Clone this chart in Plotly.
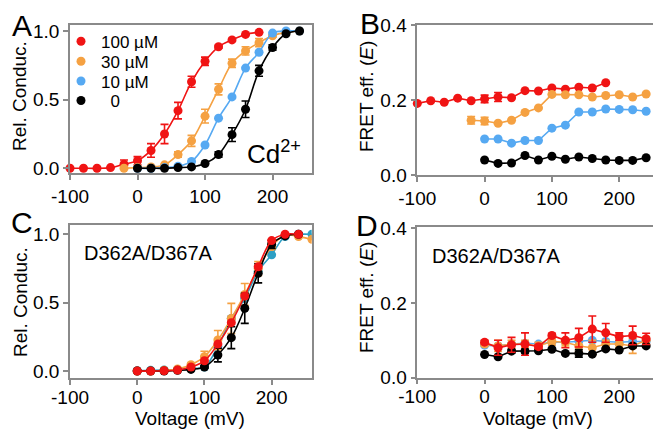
import plotly.graph_objects as go

FONT = "Liberation Sans, Arial, sans-serif"
RED = "#f01414"
ORANGE = "#f5a142"
BLUE = "#56a9f2"
TEAL = "#2d9fc4"
BLACK = "#000000"
GRAY = "#8a8a8a"

# ---------------- Panel A: Rel. conductance vs voltage, Cd2+ ----------------
a_v_red = [-100, -80, -60, -40, -20, 0, 20, 40, 60, 80, 100, 120, 140, 160, 180]
a_red = [0.0, 0.0, 0.0, 0.005, 0.03, 0.055, 0.13, 0.25, 0.42, 0.63, 0.78, 0.885, 0.935, 0.975, 0.99]
a_red_err = [0, 0, 0, 0, 0.03, 0.03, 0.05, 0.07, 0.06, 0.04, 0.03, 0.01, 0.01, 0, 0]

a_v_orange = [-20, 0, 20, 40, 60, 80, 100, 120, 140, 160, 180, 200, 220, 240]
a_orange = [0.0, 0.005, 0.01, 0.025, 0.1, 0.2, 0.38, 0.575, 0.765, 0.855, 0.915, 0.965, 0.99, 1.0]
a_orange_err = [0, 0, 0, 0, 0.02, 0.04, 0.05, 0.04, 0.03, 0.03, 0.03, 0.01, 0, 0]

a_v_blue = [0, 20, 40, 60, 80, 100, 120, 140, 160, 180, 200, 220, 240]
a_blue = [0.0, 0.0, 0.005, 0.015, 0.05, 0.17, 0.365, 0.52, 0.73, 0.845, 0.985, 1.0, 1.0]

a_v_black = [0, 20, 40, 60, 80, 100, 120, 140, 160, 180, 200, 220, 240]
a_black = [0.0, 0.0, 0.0, 0.005, 0.01, 0.035, 0.1, 0.245, 0.43, 0.71, 0.88, 0.98, 1.0]
a_black_err = [0, 0, 0, 0, 0, 0, 0.02, 0.05, 0.06, 0.04, 0.02, 0, 0]

# ---------------- Panel B: FRET efficiency ----------------
b_v_red = [-100, -80, -60, -40, -20, 0, 20, 40, 60, 80, 100, 120, 140, 160, 180]
b_red = [0.191, 0.198, 0.194, 0.205, 0.198, 0.203, 0.208, 0.206, 0.225, 0.224, 0.232, 0.229, 0.234, 0.232, 0.246]
b_red_err = [0, 0, 0, 0, 0, 0.01, 0.012, 0, 0, 0, 0, 0, 0, 0, 0]

b_v_orange = [-20, 0, 20, 40, 60, 80, 100, 120, 140, 160, 180, 200, 220, 240]
b_orange = [0.146, 0.144, 0.138, 0.146, 0.167, 0.179, 0.215, 0.214, 0.214, 0.208, 0.212, 0.214, 0.208, 0.216]
b_orange_err = [0.01, 0.01, 0, 0, 0, 0, 0, 0, 0, 0, 0, 0, 0, 0]

b_v_blue = [0, 20, 40, 60, 80, 100, 120, 140, 160, 180, 200, 220, 240]
b_blue = [0.096, 0.096, 0.085, 0.092, 0.092, 0.125, 0.133, 0.168, 0.168, 0.176, 0.175, 0.174, 0.170]

b_v_black = [0, 20, 40, 60, 80, 100, 120, 140, 160, 180, 200, 220, 240]
b_black = [0.040, 0.031, 0.032, 0.052, 0.040, 0.050, 0.042, 0.048, 0.044, 0.040, 0.039, 0.039, 0.046]

# ---------------- Panel C: D362A/D367A conductance ----------------
c_v = [0, 20, 40, 60, 80, 100, 120, 140, 160, 180, 200, 220, 240, 260]
c_red = [0.0, 0.0, 0.002, 0.008, 0.03, 0.075, 0.197, 0.354, 0.549, 0.763, 0.954, 1.0, 1.0, None]
c_orange = [0.0, 0.0, 0.005, 0.015, 0.046, 0.105, 0.227, 0.385, 0.56, 0.75, 0.91, 0.995, 0.983, 0.963]
c_orange_err = [0, 0, 0, 0, 0.01, 0.04, 0.07, 0.11, 0.08, 0.05, 0.02, 0, 0, 0]
c_blue = [0.002, 0.005, 0.008, 0.01, 0.02, 0.03, 0.18, 0.385, 0.53, 0.73, 0.85, 0.983, 1.0, 1.0]
c_black = [0.0, 0.0, 0.0, 0.005, 0.012, 0.03, 0.117, 0.244, 0.459, 0.715, 0.927, 0.988, 1.0, None]
c_black_err = [0, 0, 0, 0, 0, 0.01, 0.05, 0.08, 0.11, 0.07, 0.03, 0, 0, 0]

# ---------------- Panel D: D362A/D367A FRET ----------------
d_v = [0, 20, 40, 60, 80, 100, 120, 140, 160, 180, 200, 220, 240]
d_red = [0.095, 0.080, 0.088, 0.090, 0.083, 0.113, 0.100, 0.107, 0.130, 0.120, 0.110, 0.113, 0.104]
d_red_err = [0.005, 0.02, 0.02, 0.03, 0.005, 0.005, 0.02, 0.025, 0.035, 0.025, 0.01, 0.025, 0.015]
d_orange = [0.090, 0.085, 0.090, 0.090, 0.085, 0.097, 0.095, 0.085, 0.080, 0.090, 0.090, 0.085, 0.100]
d_orange_err = [0.005, 0.015, 0.01, 0.01, 0.01, 0.01, 0.01, 0.015, 0.02, 0.01, 0.01, 0.02, 0.01]
d_blue = [0.087, 0.085, 0.090, 0.092, 0.090, 0.095, 0.095, 0.098, 0.100, 0.097, 0.095, 0.097, 0.097]
d_black = [0.062, 0.056, 0.071, 0.071, 0.072, 0.076, 0.065, 0.065, 0.063, 0.077, 0.074, 0.085, 0.085]
d_black_err = [0, 0, 0.005, 0.005, 0, 0, 0, 0.01, 0, 0, 0, 0.005, 0]

legend_labels = ["100 \u00b5M", "30 \u00b5M", "10 \u00b5M", "\u00a0\u00a00"]

W, H = 653, 429
fig = go.Figure()

MS = 9
LW = 1.6


def add(xv, yv, color, xa, ya, err=None, shape="linear", name=None, legend=None, clip=False):
    fig.add_trace(go.Scatter(
        x=xv, y=yv, mode="lines", line=dict(color=color, width=LW, shape=shape),
        xaxis=xa, yaxis=ya, showlegend=False, hoverinfo="skip", cliponaxis=True,
        connectgaps=False))
    ey = None
    if err is not None:
        ey = dict(type="data", array=err, visible=True, color=color, thickness=1.6, width=4)
    kw = {}
    if legend is not None:
        kw["legend"] = legend
    fig.add_trace(go.Scatter(
        x=xv, y=yv, mode="markers", marker=dict(color=color, size=MS),
        error_y=ey, xaxis=xa, yaxis=ya, name=name, showlegend=legend is not None,
        cliponaxis=clip, **kw))


# Panel A
add(a_v_red, a_red, RED, "x", "y", a_red_err, "spline", legend_labels[0], "legend")
add(a_v_orange, a_orange, ORANGE, "x", "y", a_orange_err, "spline", legend_labels[1], "legend2")
add(a_v_blue, a_blue, BLUE, "x", "y", None, "spline", legend_labels[2], "legend3")
add(a_v_black, a_black, BLACK, "x", "y", a_black_err, "spline", legend_labels[3], "legend4")

# Panel B
add(b_v_red, b_red, RED, "x2", "y2", b_red_err)
add(b_v_orange, b_orange, ORANGE, "x2", "y2", b_orange_err)
add(b_v_blue, b_blue, BLUE, "x2", "y2")
add(b_v_black, b_black, BLACK, "x2", "y2")

# Panel C
add(c_v, c_blue, TEAL, "x3", "y3", None, "spline", clip=True)
add(c_v, c_orange, ORANGE, "x3", "y3", c_orange_err, "spline", clip=True)
add(c_v, c_black, BLACK, "x3", "y3", c_black_err, "spline", clip=True)
add(c_v, c_red, RED, "x3", "y3", None, "spline", clip=True)

# Panel D
add(d_v, d_blue, BLUE, "x4", "y4")
add(d_v, d_orange, ORANGE, "x4", "y4", d_orange_err)
add(d_v, d_black, BLACK, "x4", "y4", d_black_err)
add(d_v, d_red, RED, "x4", "y4", d_red_err)


def px_x(p):
    return p / W


def px_y(p):
    return 1 - p / H


tickfont = dict(family=FONT, size=19, color="#000000")
common_x = dict(showgrid=False, zeroline=False, showline=True, linecolor=GRAY, linewidth=1.5,
                ticks="outside", ticklen=5, tickcolor=GRAY, tickwidth=1.5, tickfont=tickfont,
                automargin=False,
                tickvals=[-100, 0, 100, 200], ticktext=["-100", "0", "100", "200"])
common_y = dict(showgrid=False, zeroline=False, showline=True, linecolor=GRAY, linewidth=1.5,
                ticks="outside", ticklen=5, tickcolor=GRAY, tickwidth=1.5, tickfont=tickfont,
                automargin=False)


def leg(ycenter):
    return dict(x=px_x(61), y=px_y(ycenter), xanchor="left", yanchor="middle",
                bgcolor="rgba(0,0,0,0)", font=dict(family=FONT, size=17, color="#000000"),
                itemwidth=30, tracegroupgap=0)


fig.update_layout(
    width=W, height=H,
    margin=dict(l=0, r=0, t=0, b=0, autoexpand=False),
    paper_bgcolor="white", plot_bgcolor="white",
    font=dict(family=FONT, color="#000000"),
    xaxis=dict(common_x, domain=[px_x(70), px_x(311.7)], range=[-100, 258], anchor="y", mirror=True),
    yaxis=dict(common_y, domain=[px_y(173.3), px_y(25)], range=[-0.0364, 1.0437], anchor="x", mirror=True,
               tickvals=[0, 0.5, 1.0], ticktext=["0.0", "0.5", "1.0"]),
    xaxis2=dict(common_x, domain=[px_x(417.3), 1.0], range=[-100, 250.2], anchor="y2", mirror=True),
    yaxis2=dict(common_y, domain=[px_y(175), px_y(25)], range=[0, 0.4], anchor="x2",
                tickvals=[0, 0.2, 0.4], ticktext=["0.0", "0.2", "0.4"]),
    xaxis3=dict(common_x, domain=[px_x(70), px_x(311.7)], range=[-100, 259.6], anchor="y3", mirror=True,
                ticklabelstandoff=-4),
    yaxis3=dict(common_y, domain=[px_y(378.3), px_y(225)], range=[-0.053, 1.068], anchor="x3", mirror=True,
                tickvals=[0, 0.5, 1.0], ticktext=["0.0", "0.5", "1.0"]),
    xaxis4=dict(common_x, domain=[px_x(417.3), 1.0], range=[-100, 250.2], anchor="y4", mirror=True,
                ticklabelstandoff=-4),
    yaxis4=dict(common_y, domain=[px_y(377.7), px_y(226.7)], range=[0, 0.404], anchor="x4",
                tickvals=[0, 0.2, 0.4], ticktext=["0.0", "0.2", "0.4"]),
    legend=leg(41.7),
    legend2=leg(61.7),
    legend3=leg(81.4),
    legend4=leg(101),
    showlegend=True,
)


def ann(text, x, y, size, angle=0, xanchor="center"):
    fig.add_annotation(text=text, x=px_x(x), y=px_y(y), xref="paper", yref="paper",
                       showarrow=False, textangle=angle, xanchor=xanchor, yanchor="middle",
                       font=dict(family=FONT, size=size, color="#000000"))


ann("A", 22, 25, 30)
ann("B", 370, 24, 30)
ann("C", 22, 222, 30)
ann("D", 367, 225, 30)
ann("Rel. Conduc.", 20, 96, 19, -90)
ann("Rel. Conduc.", 20, 302, 19, -90)
ann("FRET eff. (<i>E</i>)", 366, 97, 19, -90)
ann("FRET eff. (<i>E</i>)", 366, 298, 19, -90)
ann("Voltage (mV)", 190, 418, 19)
ann("Voltage (mV)", 538, 418, 19)
ann("Cd<sup>2+</sup>", 274, 152, 26)
ann("D362A/D367A", 82, 253, 20, xanchor="left")
ann("D362A/D367A", 430, 256, 20, xanchor="left")

fig.write_html("out.html", config={"displayModeBar": False},
               post_script="document.body.style.margin='0';document.body.style.padding='0';")
